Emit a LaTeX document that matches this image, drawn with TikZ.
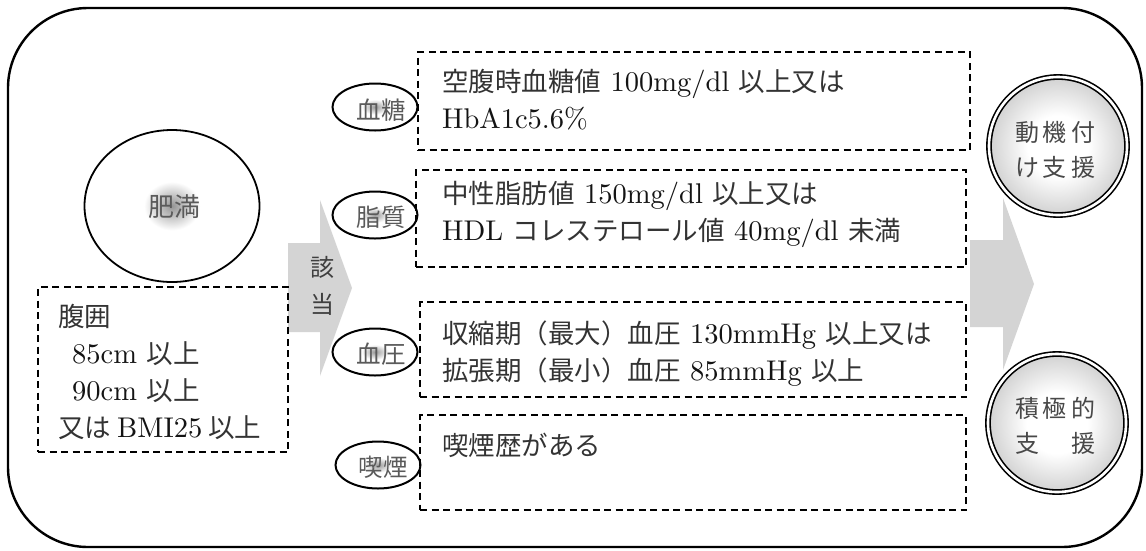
\documentclass[tikz,border=0pt]{standalone}
\usepackage{fontspec}
\setmainfont{lmroman10-regular}[Extension=.otf]
\newfontfamily\jp{Noto Sans CJK JP}
\usetikzlibrary{shapes.geometric}
\definecolor{arrowgray}{HTML}{D4D4D4}
\definecolor{txt}{HTML}{141414}
\definecolor{cjk}{HTML}{333333}
\definecolor{softtxt}{HTML}{5A5A5A}
\newcommand\J[1]{{\jp\fontsize{26.5}{37}\selectfont\color{cjk}#1}}
\pgfdeclareradialshading{spot}{\pgfpointorigin}{rgb(0bp)=(0.58,0.58,0.58); rgb(8bp)=(1,1,1); rgb(50bp)=(1,1,1)}
\pgfdeclareradialshading{smallspot}{\pgfpointorigin}{rgb(0bp)=(0.6,0.6,0.6); rgb(8bp)=(1,1,1); rgb(50bp)=(1,1,1)}
\pgfdeclareradialshading{goalshade}{\pgfpointorigin}{rgb(0bp)=(1,1,1); rgb(11bp)=(1,1,1); rgb(25bp)=(0.82,0.82,0.82); rgb(50bp)=(0.82,0.82,0.82)}
\begin{document}
\begin{tikzpicture}[x=1pt,y=-1pt,
  frame/.style={draw, line width=2.4pt, rounded corners=80pt},
  dbox/.style={draw, line width=1.4pt, dash pattern=on 7pt off 4.5pt, inner sep=0pt},
  body/.style={anchor=west, align=left, inner sep=0pt, text=txt, font=\fontsize{28.5}{37}\selectfont},
  tag/.style={ellipse, draw, line width=2pt, inner sep=0pt, minimum width=85pt, minimum height=47pt,
    shade, shading=smallspot},
  tagtext/.style={inner sep=0pt, text=softtxt, font=\jp\fontsize{24.5}{24.5}\selectfont},
  goal/.style={circle, draw, line width=1.6pt, double, double distance=2.6pt, inner sep=0pt,
    minimum size=138pt, shade, shading=goalshade},
  goaltext/.style={inner sep=0pt, align=center, text=softtxt!80!black, font=\jp\fontsize{24}{35}\selectfont},
  bigarrow/.style={fill=arrowgray, draw=none}
]
\useasboundingbox (0,0) rectangle (1146,550);
\fill[white] (0,0) rectangle (1146,550);

% outer frame
\draw[frame] (8,8) rectangle (1142,547);

% arrows (behind)
\fill[bigarrow] (288,243) -- (320,243) -- (320,200) -- (352,288) -- (320,376) -- (320,332) -- (288,332) -- cycle;
\fill[bigarrow] (970,240) -- (1003,240) -- (1003,198) -- (1034,284) -- (1003,370) -- (1003,327) -- (970,327) -- cycle;
\node[inner sep=0pt, text=softtxt!70!black, font=\jp\fontsize{24}{37}\selectfont, align=center] (gaito) at (322,286) {該\\当};

% obesity
\node[ellipse, draw, line width=1.8pt, minimum width=175pt, minimum height=152pt, inner sep=0pt,
  shade, shading=spot] (himan) at (172,206) {};
\node[inner sep=0pt, text=softtxt, font=\jp\fontsize{26}{26}\selectfont] (himantext) at (174,207) {肥満};

\node[dbox, minimum width=250pt, minimum height=165pt] (fukui) at (163,369.5) {};
\node[body] (fukuitext) at (58,372) {\J{腹囲}\\\hspace{14pt}85cm \J{以上}\\\hspace{14pt}90cm \J{以上}\\\J{又は}\hspace{6pt}BMI25\hspace{6pt}\J{以上}};

% tags
\node[tag] (tag1) at (375,107) {};
\node[tagtext] (tag1t) at (381,110) {血糖};
\node[tag] (tag2) at (375,215) {};
\node[tagtext] (tag2t) at (381,217) {脂質};
\node[tag] (tag3) at (375,352) {};
\node[tagtext] (tag3t) at (381,354) {血圧};
\node[tag] (tag4) at (378,465) {};
\node[tagtext] (tag4t) at (383,467) {喫煙};

% criteria boxes
\node[dbox, minimum width=552pt, minimum height=98pt] (box1) at (694,101) {};
\node[body] (box1t) at (442,100) {\J{空腹時血糖値} 100mg/dl \J{以上又は}\\HbA1c5.6\%};
\node[dbox, minimum width=550pt, minimum height=97pt] (box2) at (691,218.5) {};
\node[body] (box2t) at (442,214) {\J{中性脂肪値} 150mg/dl \J{以上又は}\\HDL \J{コレステロール値} 40mg/dl \J{未満}};
\node[dbox, minimum width=546pt, minimum height=95pt] (box3) at (693,349.5) {};
\node[body] (box3t) at (442,354) {\J{収縮期（最大）血圧} 130mmHg \J{以上又は}\\\J{拡張期（最小）血圧} 85mmHg \J{以上}};
\node[dbox, minimum width=546pt, minimum height=95pt] (box4) at (693,462.5) {};
\node[body] (box4t) at (442,445) {\J{喫煙歴がある}};

% goals
\node[goal] (goal1) at (1058,146) {};
\node[goaltext] (goal1t) at (1055,150) {動\hspace{4pt}機\hspace{4pt}付\\け\hspace{4pt}支\hspace{4pt}援};
\node[goal] (goal2) at (1057,423) {};
\node[goaltext] (goal2t) at (1055,426) {積\hspace{4pt}極\hspace{4pt}的\\支\hspace{32pt}援};
\end{tikzpicture}
\end{document}
